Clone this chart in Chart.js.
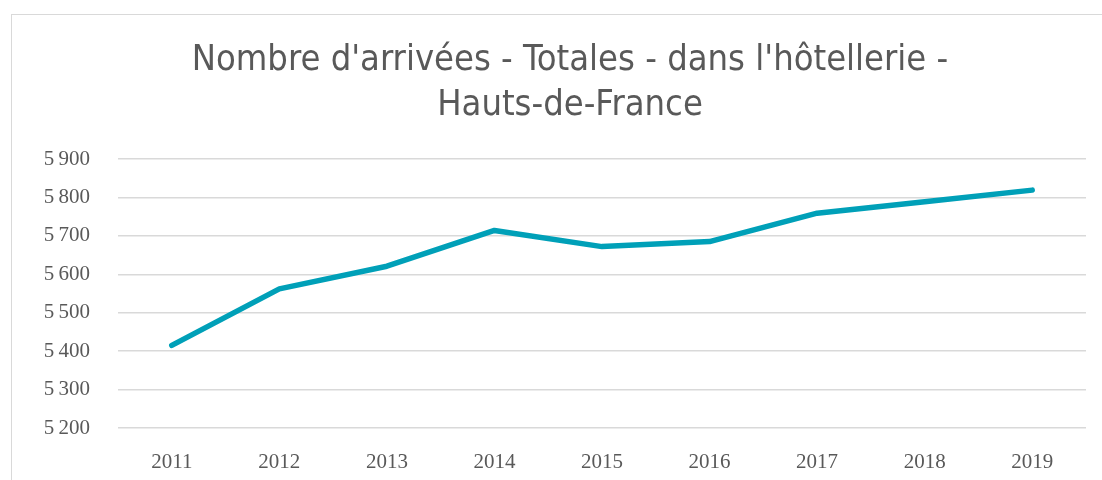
<!DOCTYPE html>
<html>
<head>
<meta charset="utf-8">
<script src="https://cdn.jsdelivr.net/npm/chart.js@4/dist/chart.umd.min.js"></script>
<style>
  html, body { margin: 0; padding: 0; background: #fff; overflow: hidden; }
  .frame {
    position: absolute; left: 11px; top: 14px; width: 1120px; height: 500px;
    border: 1px solid #d9d9d9; box-sizing: border-box;
  }
  #chart { position: absolute; left: 0; top: 0; }
</style>
</head>
<body>
<div class="frame"></div>
<canvas id="chart" width="1102" height="480"></canvas>
<script>
const years = ['2011', '2012', '2013', '2014', '2015', '2016', '2017', '2018', '2019'];
const arrivals = [5415, 5562, 5621, 5714, 5672, 5685, 5759, 5789, 5819];
const titleLines = ["Nombre d'arrivées - Totales - dans l'hôtellerie -", 'Hauts-de-France'];

const textColor = '#595959';
const gridColor = '#d9d9d9';
const tickFont = { family: "'Liberation Serif', 'DejaVu Serif', serif", size: 21 };

// French thousands separator: "5 900"
const fmt = (v) => String(v).replace(/\B(?=(\d{3})+(?!\d))/g, '\u202f');

// the title is centred on the whole frame, not on the plot
const shiftTitle = {
  id: 'shiftTitle',
  afterLayout(chart) {
    if (chart.titleBlock) {
      chart.titleBlock.left = 38;
      chart.titleBlock.right = 1102;
    }
  },
};

const ctx = document.getElementById('chart').getContext('2d');
new Chart(ctx, {
  type: 'line',
  data: {
    labels: years,
    datasets: [{
      label: "Nombre d'arrivées",
      data: arrivals,
      borderColor: '#00a0b8',
      borderWidth: 5.5,
      borderCapStyle: 'round',
      borderJoinStyle: 'round',
      pointRadius: 0,
      tension: 0,
      fill: false,
    }],
  },
  options: {
    responsive: false,
    animation: false,
    layout: { padding: { left: 0, right: 16, top: 0, bottom: 0 } },
    plugins: {
      legend: { display: false },
      tooltip: { enabled: false },
      title: {
        display: true,
        text: titleLines,
        color: textColor,
        font: { family: "'Liberation Sans Narrow', 'DejaVu Sans Condensed', sans-serif", size: 36, weight: 'normal', lineHeight: 1.25 },
        padding: { top: 38, bottom: 31 },
      },
    },
    scales: {
      x: {
        offset: true,
        afterFit: (scale) => { scale.height = 52; },
        grid: { display: false },
        border: { display: false },
        ticks: { color: textColor, font: tickFont, padding: 14, maxRotation: 0 },
      },
      y: {
        min: 5200,
        max: 5900,
        afterFit: (scale) => { scale.width = 118; },
        grid: { color: gridColor, lineWidth: 1.5, drawTicks: false },
        border: { display: false },
        ticks: { stepSize: 100, color: textColor, font: tickFont, padding: 28, callback: (v) => fmt(v) },
      },
    },
  },
  plugins: [shiftTitle],
});
</script>
</body>
</html>
